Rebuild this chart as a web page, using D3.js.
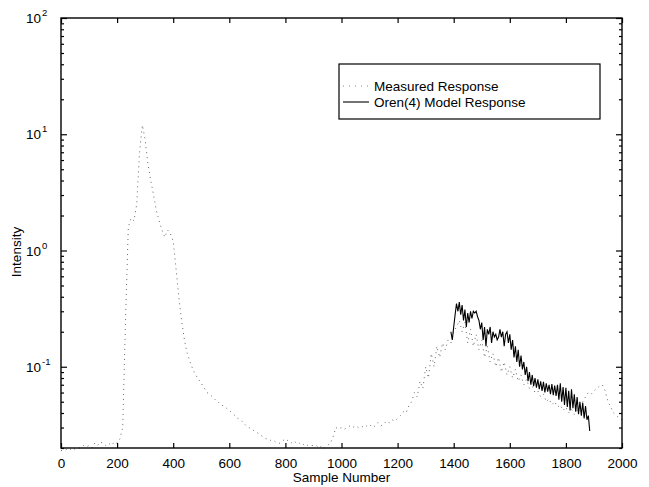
<!DOCTYPE html>
<html><head><meta charset="utf-8">
<script src="https://cdn.jsdelivr.net/npm/d3@7/dist/d3.min.js"></script>
<style>body{margin:0;background:#fff}text{font-family:"Liberation Sans",Arial,Helvetica,sans-serif}</style>
</head><body><svg id="c" width="649" height="487"></svg>
<script>
// Measured response, sampled every 10 samples from 0 to 2000
const measuredStart = 0, measuredStep = 10;
const measuredValues = [
0.019,0.019,0.0195,0.019,0.02,0.0195,0.02,0.02,0.021,0.0205,
0.021,0.02,0.022,0.021,0.0225,0.022,0.021,0.022,0.021,0.0225,
0.022,0.024,0.03,0.25,1.6,1.9,1.8,2.5,7,12,
9,5.5,4,3,2.2,1.8,1.5,1.3,1.5,1.4,
1.2,0.7,0.4,0.25,0.17,0.13,0.11,0.095,0.085,0.078,
0.072,0.066,0.06,0.058,0.055,0.052,0.05,0.047,0.046,0.044,
0.042,0.04,0.038,0.036,0.035,0.033,0.031,0.03,0.029,0.028,
0.027,0.026,0.025,0.024,0.024,0.023,0.023,0.022,0.022,0.023,
0.024,0.023,0.022,0.023,0.022,0.022,0.021,0.022,0.021,0.021,
0.021,0.021,0.02,0.021,0.02,0.021,0.022,0.025,0.03,0.029,
0.03,0.029,0.03,0.031,0.03,0.031,0.03,0.031,0.03,0.031,
0.032,0.03,0.031,0.033,0.031,0.032,0.034,0.033,0.035,0.034,
0.036,0.038,0.041,0.04,0.046,0.05,0.06,0.055,0.075,0.065,
0.1,0.08,0.13,0.1,0.15,0.12,0.16,0.14,0.17,0.16,
0.2,0.22,0.25,0.2,0.24,0.16,0.21,0.15,0.19,0.14,
0.17,0.12,0.15,0.11,0.13,0.1,0.12,0.09,0.11,0.085,
0.1,0.08,0.095,0.075,0.085,0.07,0.078,0.065,0.068,0.06,
0.062,0.055,0.058,0.05,0.053,0.047,0.05,0.045,0.047,0.042,
0.045,0.04,0.043,0.039,0.042,0.045,0.05,0.055,0.06,0.058,
0.062,0.065,0.068,0.07,0.062,0.05,0.045,0.04,0.038,0.036,
0.035];
// Oren(4) model response, every 5 samples from 1390
const modelStart = 1390, modelStep = 5;
const modelValues = [
0.2,0.17,0.22,0.28,0.35,0.3,0.36,0.28,0.34,0.25,
0.31,0.22,0.29,0.24,0.3,0.26,0.3,0.29,0.3,0.27,
0.25,0.21,0.24,0.17,0.22,0.15,0.21,0.19,0.22,0.16,
0.2,0.18,0.19,0.17,0.18,0.21,0.18,0.2,0.15,0.19,
0.2,0.16,0.19,0.14,0.17,0.12,0.15,0.11,0.14,0.1,
0.125,0.095,0.11,0.085,0.1,0.075,0.09,0.07,0.085,0.068,
0.08,0.066,0.078,0.064,0.075,0.062,0.074,0.06,0.072,0.061,
0.07,0.058,0.071,0.057,0.069,0.056,0.07,0.052,0.072,0.05,
0.067,0.047,0.066,0.045,0.062,0.042,0.064,0.044,0.058,0.041,
0.055,0.039,0.05,0.038,0.049,0.036,0.046,0.035,0.038,0.028];
const xTicks = [0,200,400,600,800,1000,1200,1400,1600,1800,2000];
const yTicks = [0.1,1,10,100];
const yExponents = ["-1","0","1","2"];
const legendLabels = ["Measured Response","Oren(4) Model Response"];

const L=61,R=622,T=18,B=448;
const svg=d3.select("#c");
const x=d3.scaleLinear().domain([0,2000]).range([L,R]);
const y=d3.scaleLog().domain([0.02,100]).range([B,T]);

const measured=measuredValues.map((v,i)=>({s:measuredStart+i*measuredStep,v}));
const model=modelValues.map((v,i)=>({s:modelStart+i*modelStep,v}));
const line=d3.line().x(d=>x(d.s)).y(d=>y(d.v));

svg.append("path").datum(measured).attr("d",line).attr("fill","none")
  .attr("stroke","#666").attr("stroke-width",1).attr("stroke-dasharray","1,4");
svg.append("path").datum(model).attr("d",line).attr("fill","none")
  .attr("stroke","#000").attr("stroke-width",1.1);

// minor ticks
const minor=[];
for(let e=-2;e<2;e++) for(let m=2;m<10;m++){const v=m*Math.pow(10,e); if(v>=0.02&&v<=100) minor.push(v);}

const fs=13.5;
const gx=svg.append("g").attr("transform",`translate(0,${B})`)
  .call(d3.axisBottom(x).tickValues(xTicks).tickSize(-5).tickPadding(10).tickFormat(d3.format("d")));
const gxt=svg.append("g").attr("transform",`translate(0,${T})`)
  .call(d3.axisTop(x).tickValues(xTicks).tickSize(-5).tickFormat(""));
const gy=svg.append("g").attr("transform",`translate(${L},0)`)
  .call(d3.axisLeft(y).tickValues(yTicks).tickSize(-6).tickFormat(""));
const gyr=svg.append("g").attr("transform",`translate(${R},0)`)
  .call(d3.axisRight(y).tickValues(yTicks).tickSize(-6).tickFormat(""));
const gym=svg.append("g").attr("transform",`translate(${L},0)`)
  .call(d3.axisLeft(y).tickValues(minor).tickSize(-3).tickFormat(""));
const gymr=svg.append("g").attr("transform",`translate(${R},0)`)
  .call(d3.axisRight(y).tickValues(minor).tickSize(-3).tickFormat(""));
[gx,gxt,gy,gyr,gym,gymr].forEach(g=>{g.select(".domain").remove();g.selectAll("line").attr("stroke","#000").attr("stroke-width",1.2);});
gx.selectAll("text").attr("font-size",fs).attr("fill","#000");

// y labels with superscripts
gy.selectAll(".tick").each(function(d,i){
  d3.select(this).append("text").attr("x",-20).attr("dy","0.35em")
    .attr("text-anchor","end").attr("fill","#000").attr("font-size",fs).text("10");
  d3.select(this).append("text").attr("x",-19).attr("dy","-0.25em")
    .attr("text-anchor","start").attr("fill","#000").attr("font-size",9.5).text(yExponents[i]);
});

svg.append("rect").attr("x",L).attr("y",T).attr("width",R-L).attr("height",B-T)
  .attr("fill","none").attr("stroke","#000").attr("stroke-width",1.4);

svg.append("text").attr("x",(L+R)/2).attr("y",482).attr("text-anchor","middle")
  .attr("font-size",fs).text("Sample Number");
svg.append("text").attr("transform","translate(21,252) rotate(-90)").attr("text-anchor","middle")
  .attr("font-size",fs).text("Intensity");

// legend
const lg=svg.append("g");
lg.append("rect").attr("x",339).attr("y",64).attr("width",261).attr("height",55)
  .attr("fill","#fff").attr("stroke","#000").attr("stroke-width",1.2);
lg.append("line").attr("x1",343).attr("x2",369).attr("y1",86).attr("y2",86)
  .attr("stroke","#888").attr("stroke-dasharray","1,5");
lg.append("line").attr("x1",343).attr("x2",369).attr("y1",102).attr("y2",102)
  .attr("stroke","#000").attr("stroke-width",1.1);
lg.selectAll("text.l").data(legendLabels).join("text").attr("class","l")
  .attr("x",374).attr("y",(d,i)=>86+i*16).attr("dy","0.35em").attr("font-size",fs).text(d=>d);
</script></body></html>
